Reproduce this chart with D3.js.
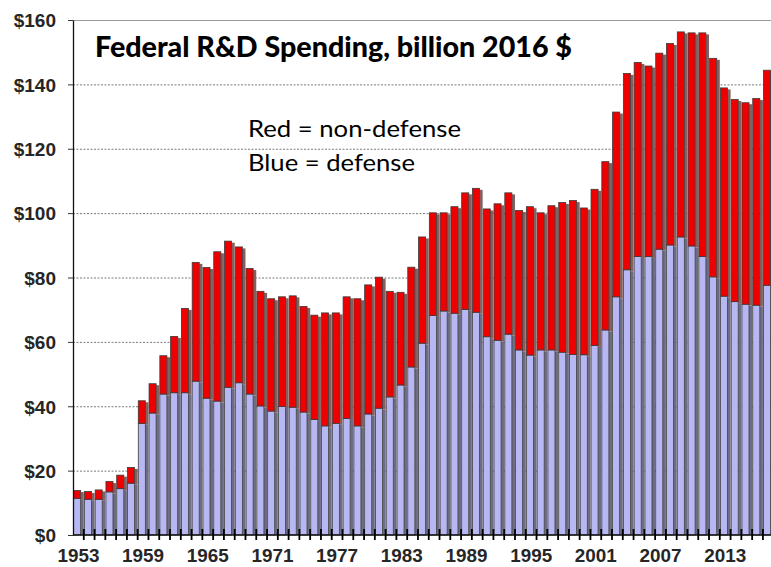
<!DOCTYPE html>
<html lang="en">
  <head>
    <meta charset="utf-8"/>
    <style>
      body {
        margin: 0;
        background: #fff;
      }
      .axis text {
        font-family: "Liberation Sans", Arial, sans-serif;
        font-weight: bold;
        fill: #262626;
      }
      .grid line {
        stroke: #7a7a7a;
        stroke-dasharray: 2,1.5;
      }
    </style>
    <script src="https://cdn.jsdelivr.net/npm/d3@7"></script>
  </head>
  <body>
    <script type="text/javascript">
      // chart data (billion 2016 $)
      var years = d3.range(1953, 2018);
      var defense = [11.4, 11.1, 11.1, 13.4, 14.4, 16.1, 34.7, 37.9, 43.8, 44.2,
                     44.2, 47.8, 42.5, 41.6, 45.9, 47.3, 43.8, 40.1, 38.5, 39.9,
                     39.7, 38.2, 35.9, 33.9, 34.7, 36.2, 33.9, 37.6, 39.4, 42.9,
                     46.6, 52.2, 59.6, 68.2, 69.6, 68.9, 70.1, 69.2, 61.6, 60.5,
                     62.4, 57.5, 55.9, 57.5, 57.5, 56.8, 56.1, 56.0, 58.9, 63.7,
                     74.0, 82.4, 86.5, 86.5, 88.8, 90.1, 92.6, 89.8, 86.5, 80.2,
                     74.2, 72.5, 71.7, 71.4, 77.6];
      var nondefense = [2.4, 2.4, 2.9, 3.2, 4.2, 4.9, 7.0, 9.1, 11.9, 17.5,
                        26.2, 36.9, 40.6, 46.4, 45.4, 42.2, 39.0, 35.6, 34.9, 34.1,
                        34.6, 32.8, 32.4, 35.1, 34.3, 37.8, 39.5, 40.1, 40.7, 32.8,
                        28.8, 31.0, 33.0, 31.9, 30.5, 33.1, 36.2, 38.5, 39.7, 42.4,
                        43.9, 43.3, 46.1, 42.6, 44.8, 46.5, 47.8, 45.6, 48.5, 52.3,
                        57.4, 61.0, 60.3, 59.2, 60.9, 62.6, 63.7, 66.2, 69.5, 67.9,
                        64.7, 62.8, 62.6, 64.2, 66.8];
      var yTicks = [0, 20, 40, 60, 80, 100, 120, 140, 160];
      var xLabels = [1953, 1959, 1965, 1971, 1977, 1983, 1989, 1995, 2001, 2007, 2013];

      var w = 771;
      var h = 567;
      var plotLeft = 73;
      var plotTop = 20;
      var plotBottom = 535;
      var step = 10.78;

      var rows = years.map(function(y, i) {
        return {year: y, defense: defense[i], nondefense: nondefense[i]};
      });
      var series = d3.stack().keys(["defense", "nondefense"])(rows);

      var svg = d3.select("body")
                  .append("svg")
                  .attr("width", w)
                  .attr("height", h);

      var xScale = d3.scaleBand()
                     .domain(years)
                     .range([plotLeft, plotLeft + years.length * step])
                     .padding(0);
      var yScale = d3.scaleLinear()
                     .domain([0, 160])
                     .range([plotBottom, plotTop]);

      // dashed grid lines behind the bars
      svg.append("g")
         .attr("class", "grid")
         .selectAll("line")
         .data(yTicks.slice(1, -1))
         .enter()
         .append("line")
         .attr("x1", plotLeft)
         .attr("x2", w)
         .attr("y1", function(d) { return yScale(d) + 0.5; })
         .attr("y2", function(d) { return yScale(d) + 0.5; });

      // plot top border
      svg.append("line")
         .attr("x1", plotLeft).attr("x2", w)
         .attr("y1", yScale(160) + 0.5).attr("y2", yScale(160) + 0.5)
         .attr("stroke", "#9a9a9a")
         .attr("stroke-width", 1.2);

      var colors = {defense: "#b7b7f4", nondefense: "#ee0000"};
      var shades = {defense: "#6c6c84", nondefense: "#86605f"};
      var barW = step * 0.71;

      var layer = svg.selectAll("g.layer")
                     .data(series)
                     .enter()
                     .append("g")
                     .attr("class", "layer");

      // dark strip to the right of each bar (shadow)
      layer.selectAll("rect.shade")
           .data(function(s) { return s.map(function(d) { return {key: s.key, d: d}; }); })
           .enter()
           .append("rect")
           .attr("class", "shade")
           .attr("x", function(o) { return xScale(o.d.data.year) + barW; })
           .attr("y", function(o) { return yScale(o.d[1]) + 1.5; })
           .attr("width", step - barW)
           .attr("height", function(o) { return Math.max(0, yScale(o.d[0]) - yScale(o.d[1]) - (o.key == "defense" ? 1.5 : 0)); })
           .attr("fill", function(o) { return shades[o.key]; });

      layer.selectAll("rect.bar")
           .data(function(s) { return s.map(function(d) { return {key: s.key, d: d}; }); })
           .enter()
           .append("rect")
           .attr("class", "bar")
           .attr("x", function(o) { return xScale(o.d.data.year) + 0.6; })
           .attr("y", function(o) { return yScale(o.d[1]); })
           .attr("width", barW - 0.6)
           .attr("height", function(o) { return yScale(o.d[0]) - yScale(o.d[1]); })
           .attr("fill", function(o) { return colors[o.key]; })
           .attr("stroke", "#3a3a3a")
           .attr("stroke-width", 0.8);

      // y axis
      var yAxis = d3.axisLeft(yScale)
                    .tickValues(yTicks)
                    .tickFormat(function(d) { return "$" + d; })
                    .tickSize(5)
                    .tickSizeOuter(0)
                    .tickPadding(12);
      var gy = svg.append("g")
                  .attr("class", "axis")
                  .attr("transform", "translate(" + plotLeft + ",0)")
                  .call(yAxis);
      gy.selectAll("text").style("font-size", "19px").attr("dy", "0.36em");
      gy.select(".domain").attr("stroke", "#111").attr("stroke-width", 1.3);
      gy.selectAll(".tick line").attr("stroke", "#333");

      // x axis: base line, year boundary ticks, labels every 6 years
      svg.append("line")
         .attr("x1", plotLeft).attr("x2", w)
         .attr("y1", plotBottom).attr("y2", plotBottom)
         .attr("stroke", "#111")
         .attr("stroke-width", 1.3);

      svg.append("g")
         .selectAll("line")
         .data(years)
         .enter()
         .append("line")
         .attr("x1", function(d) { return xScale(d) + step; })
         .attr("x2", function(d) { return xScale(d) + step; })
         .attr("y1", plotBottom - 6)
         .attr("y2", plotBottom + 5)
         .attr("stroke", "#000")
         .attr("stroke-width", 1.8);

      var xAxis = d3.axisBottom(xScale)
                    .tickValues(xLabels)
                    .tickSize(0)
                    .tickPadding(14);
      var gx = svg.append("g")
                  .attr("class", "axis")
                  .attr("transform", "translate(0," + plotBottom + ")")
                  .call(xAxis);
      gx.select(".domain").remove();
      gx.selectAll("text")
        .style("font-size", "19px")
        .attr("textLength", 42)
        .attr("lengthAdjust", "spacingAndGlyphs");

      // title and colour key
      svg.append("text")
         .attr("x", 95)
         .attr("y", 57)
         .attr("font-family", "Lato, 'Open Sans', sans-serif")
         .attr("font-weight", "900")
         .attr("font-size", "28px")
         .attr("textLength", 477)
         .attr("lengthAdjust", "spacingAndGlyphs")
         .text("Federal R&D Spending, billion 2016 $");

      svg.append("text")
         .attr("x", 248)
         .attr("y", 137)
         .attr("font-family", "Lato, 'Open Sans', sans-serif")
         .attr("font-size", "24px")
         .attr("textLength", 213)
         .attr("lengthAdjust", "spacingAndGlyphs")
         .text("Red = non-defense");

      svg.append("text")
         .attr("x", 248)
         .attr("y", 171)
         .attr("font-family", "Lato, 'Open Sans', sans-serif")
         .attr("font-size", "24px")
         .attr("textLength", 167)
         .attr("lengthAdjust", "spacingAndGlyphs")
         .text("Blue = defense");
    </script>
  </body>
</html>
